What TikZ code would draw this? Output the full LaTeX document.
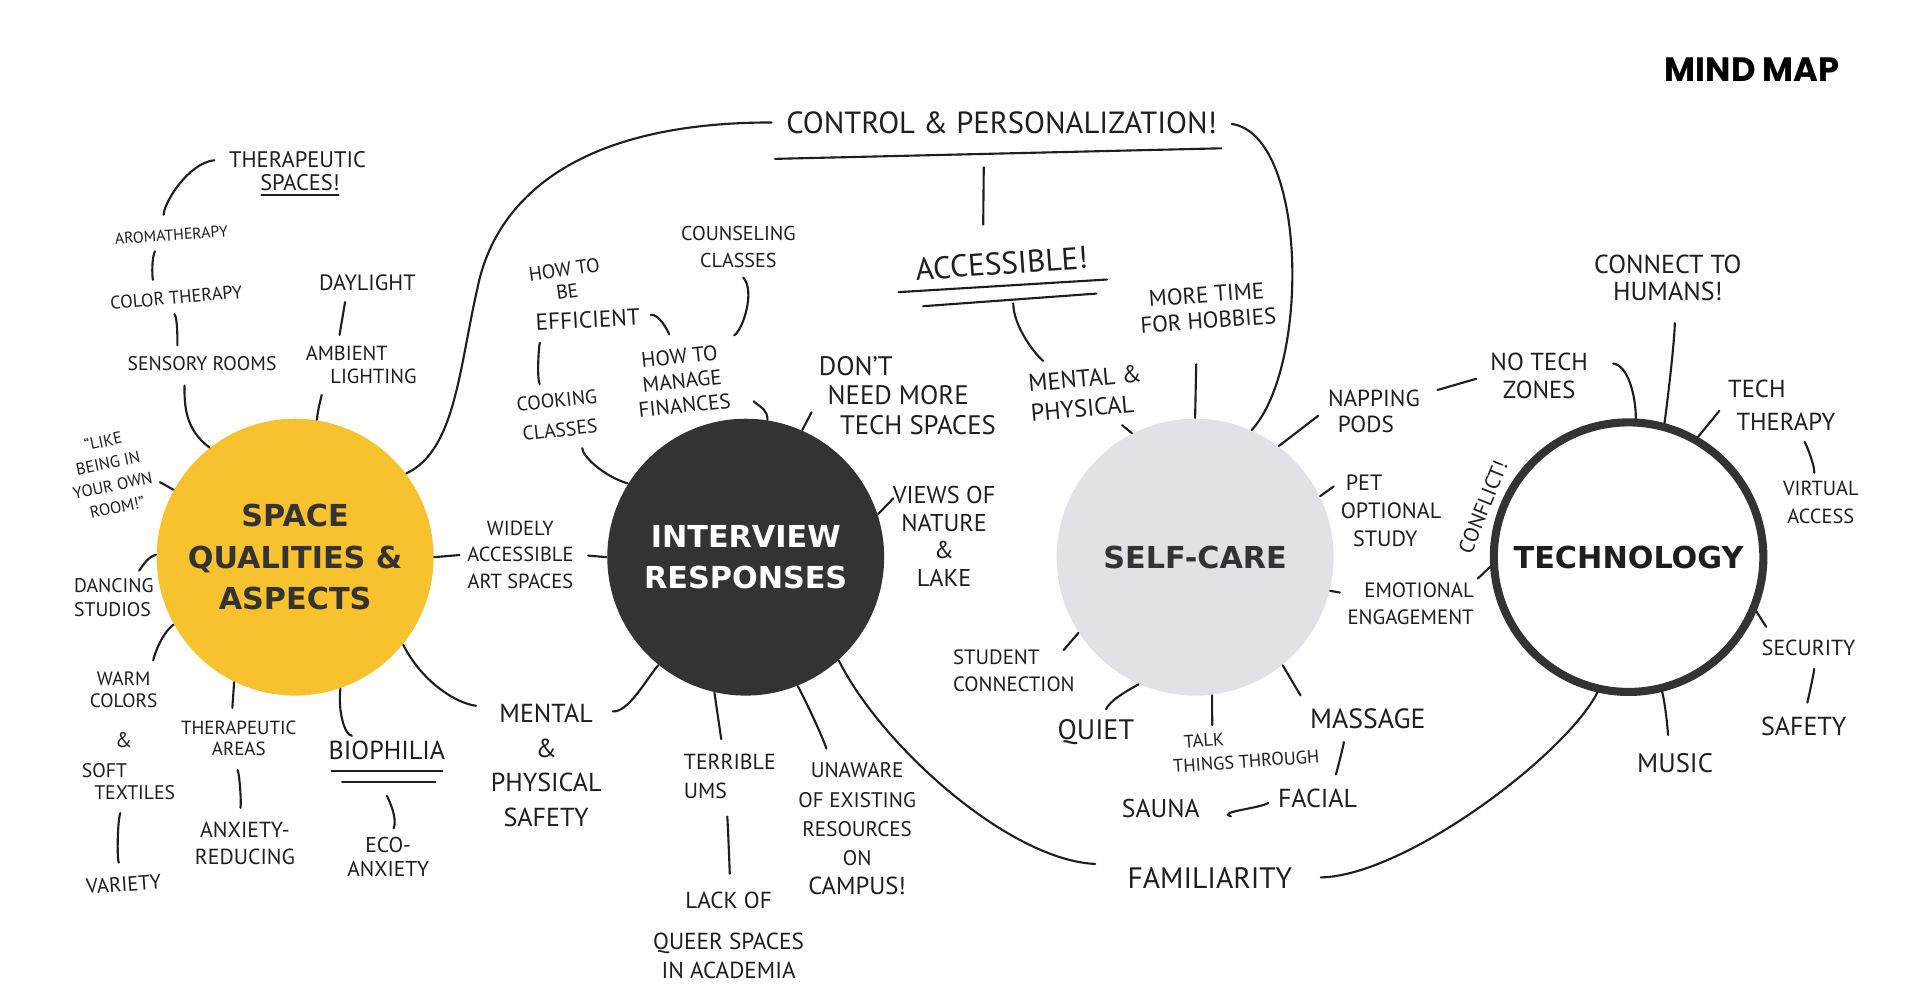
\documentclass[tikz,border=0pt]{standalone}
\usepackage{fontspec}
\usepackage{xcolor}
\newfontfamily\handfont{PT Sans}
\newfontfamily\hubfont{DejaVu Sans}
\newfontfamily\titlefont{Poppins}
\newcommand\hw[2]{\handfont\fontsize{#1}{#2}\selectfont}
\definecolor{sunny}{HTML}{F8C22E}
\definecolor{charcoal}{HTML}{333333}
\definecolor{mist}{HTML}{E1E1E6}
\definecolor{ink}{HTML}{1E1E1E}

\begin{document}
\begin{tikzpicture}[x=0.012245cm, y=-0.012245cm,
  note/.style={inner sep=1pt, align=center, text=ink},
  link/.style={draw=ink, line width=0.6pt, line cap=round},
  hub/.style={circle, minimum size=2.767cm, inner sep=0pt, align=center,
    font=\hubfont\bfseries\fontsize{8.6pt}{11.8pt}\selectfont}]
  \path[use as bounding box, fill=white] (0,0) rectangle (1568,821);

  \node[font=\titlefont\bfseries\fontsize{9.6pt}{12pt}\selectfont] (title) at (1431,57) {MIND MAP};

  \node[hub, fill=sunny, text=charcoal] (sq) at (241,455) {SPACE\\QUALITIES \&\\ASPECTS};
  \node[hub, fill=charcoal, text=white] (ir) at (609,455) {INTERVIEW\\RESPONSES};
  \node[hub, fill=mist, text=charcoal] (sc) at (976,455) {SELF-CARE};
  \node[hub, draw=charcoal, line width=2.3pt, minimum size=2.694cm, text=ink] (tech) at (1330,455) {TECHNOLOGY};

  \node[note, font=\hw{6.4pt}{7pt}] (therA) at (243,130) {THERAPEUTIC};
  \node[note, font=\hw{6.4pt}{7pt}] (therB) at (245,149) {SPACES!};
  \draw[link, shorten <=1.5pt, shorten >=1.5pt] (therB.south west) -- (therB.south east);
  \node[note, font=\hw{4.5pt}{5pt}, rotate=4] (aroma) at (140,192) {AROMATHERAPY};
  \draw[link, shorten <=3pt, shorten >=3pt] (therA.west) .. controls +(-30,3) and +(0,-18) .. ([xshift=-2pt]aroma.north);
  \node[note, font=\hw{5.2pt}{6pt}, rotate=5] (color) at (144,243) {COLOR THERAPY};
  \draw[link, shorten <=2pt, shorten >=2pt] ([xshift=-4pt]aroma.south) .. controls +(-5,10) and +(-2,-10) .. ([xshift=-6pt]color.north);
  \node[note, font=\hw{5.6pt}{6.5pt}] (sensory) at (165,297) {SENSORY ROOMS};
  \draw[link, shorten <=2pt, shorten >=2pt] ([xshift=-2pt]color.south) .. controls +(6,8) and +(0,-10) .. ([xshift=-7pt]sensory.north);
  \draw[link, shorten >=3pt] (sq.128) .. controls +(-20,-15) and +(0,25) .. ([xshift=-5pt]sensory.south);
  \node[note, font=\hw{6.3pt}{7pt}] (daylight) at (300,231) {DAYLIGHT};
  \node[note, font=\hw{5.8pt}{6.5pt}, align=left] (ambient) at (295,298) {AMBIENT\\\hspace*{7pt}LIGHTING};
  \draw[link, shorten <=2pt, shorten >=2pt] ([xshift=-6pt]daylight.south) -- ([xshift=-6.5pt]ambient.north);
  \draw[link, shorten >=2pt] (sq.81) .. controls +(1,-10) and +(-1,8) .. ([xshift=-11pt]ambient.south);

  \node[note, font=\hw{8.7pt}{10pt}] (control) at (818,100) {CONTROL \& PERSONALIZATION!};
  \draw[link, shorten >=3pt] (sq.37) .. controls (372,368) and (375,300) .. (390,235)
    .. controls (402,175) and (455,100) .. (control.west);
  \draw[link] ([xshift=-2pt,yshift=-6pt]control.south west) -- ([yshift=-3pt]control.south east);

  \node[note, font=\hw{4.7pt}{6.4pt}, rotate=12] (quote) at (90,387) {“LIKE\\BEING IN\\YOUR OWN\\ROOM!”};
  \draw[link, shorten <=2pt] ([yshift=-4pt]quote.east) -- (sq.151);
  \node[note, font=\hw{5.6pt}{6.6pt}, align=left] (dancing) at (93,488) {DANCING\\STUDIOS};
  \draw[link, shorten >=2pt] (sq.179) .. controls +(-8,2) and +(6,-4) .. ([xshift=-7pt]dancing.north east);
  \node[note, font=\hw{5.5pt}{6.2pt}] (warm) at (101,563) {WARM\\COLORS};
  \draw[link, shorten >=2pt] (sq.209) .. controls +(-10,8) and +(2,-10) .. ([xshift=8pt]warm.north);
  \node[note, font=\hw{6pt}{7pt}] (amp) at (101,604) {\&};
  \node[note, font=\hw{5.6pt}{6.3pt}, align=left] (soft) at (105,638) {SOFT\\\hspace*{3.5pt}TEXTILES};
  \node[note, font=\hw{5.9pt}{7pt}, rotate=4] (variety) at (101,722) {VARIETY};
  \draw[link, shorten <=3pt, shorten >=3pt] ([xshift=-1pt]soft.south) .. controls +(-6,12) and +(-5,-12) .. (variety.north);

  \node[note, font=\hw{5.4pt}{6pt}] (areas) at (195,603) {THERAPEUTIC\\AREAS};
  \draw[link, shorten >=2.5pt] (sq.244) -- ([xshift=-2pt]areas.north);
  \node[note, font=\hw{6.2pt}{7.7pt}] (anxiety) at (200,689) {ANXIETY-\\REDUCING};
  \draw[link, shorten <=3pt, shorten >=3pt] ([xshift=-1.5pt]areas.south) .. controls +(5,12) and +(3,-12) .. ([xshift=-2pt]anxiety.north);
  \node[note, font=\hw{7.4pt}{8pt}] (bio) at (316,613) {BIOPHILIA};
  \draw[link] ([xshift=2pt,yshift=-2pt]bio.south west) -- ([xshift=-2pt,yshift=-2pt]bio.south east);
  \draw[link] ([xshift=5pt,yshift=-5pt]bio.south west) -- ([xshift=-4pt,yshift=-5pt]bio.south east);
  \draw[link, shorten >=2pt] (sq.289) .. controls +(-2,18) and +(-12,-2) .. ([xshift=-8pt]bio.north);
  \node[note, font=\hw{6.1pt}{6.8pt}] (eco) at (317,700) {ECO-\\ANXIETY};
  \draw[link, shorten >=1.5pt] ([yshift=-9pt]bio.south) .. controls +(5,10) and +(4,-10) .. ([xshift=1pt]eco.north);

  \node[note, font=\hw{7.4pt}{9.8pt}] (mental) at (446,625) {MENTAL\\\&\\PHYSICAL\\SAFETY};
  \draw[link, shorten >=3pt] (sq.321) .. controls +(15,30) and +(-25,-3) .. ([yshift=-2pt]mental.north west);
  \draw[link, shorten <=2pt] ([yshift=-3pt]mental.north east) .. controls +(18,2) and +(-10,12) .. (ir.231);
  \node[note, font=\hw{5.8pt}{7.6pt}] (widely) at (425,453) {WIDELY\\ACCESSIBLE\\ART SPACES};
  \draw[link, shorten >=1pt] (sq.east) -- (widely.west);
  \draw[link, shorten <=3pt] (widely.east) -- (ir.west);

  \node[note, font=\hw{5.6pt}{8.4pt}, rotate=6] (cook) at (456,339) {COOKING\\CLASSES};
  \draw[link, shorten >=2pt] (ir.148) .. controls +(-20,-6) and +(0,12) .. ([xshift=6pt]cook.south);
  \node[note, font=\hw{5.6pt}{6.4pt}, rotate=8] (howbe) at (462,229) {HOW TO\\BE};
  \node[note, font=\hw{6.6pt}{7pt}, rotate=3] (effic) at (480,261) {EFFICIENT};
  \draw[link, shorten <=3.5pt, shorten >=1.5pt] ([xshift=-12pt]effic.south) .. controls +(-6,10) and +(-4,-10) .. ([xshift=-4pt]cook.north);
  \node[note, font=\hw{6pt}{7pt}, rotate=6] (fin) at (557,311) {HOW TO\\MANAGE\\FINANCES};
  \draw[link, shorten <=2pt, shorten >=3pt] (effic.east) .. controls +(12,-3) and +(-2,-10) .. ([xshift=-2pt]fin.north);
  \node[note, font=\hw{5.7pt}{7.7pt}] (couns) at (603,202) {COUNSELING\\CLASSES};
  \draw[link, shorten <=2pt, shorten >=2pt] (couns.south) .. controls +(14,15) and +(12,-8) .. (fin.north east);
  \draw[link] ([xshift=5pt,yshift=3pt]fin.south east) .. controls +(6,5) and +(0,-8) .. (ir.81);
  \node[note, font=\hw{7.6pt}{8.4pt}, align=left] (dont) at (741,323) {DON’T\\\hspace*{2.5pt}NEED MORE\\\hspace*{6pt}TECH SPACES};
  \draw[link, shorten >=2pt] (ir.66) -- ([yshift=-3pt]dont.west);
  \node[note, font=\hw{6.9pt}{7.9pt}] (views) at (771,438) {VIEWS OF\\NATURE\\\&\\LAKE};
  \draw[link, shorten >=1pt] (ir.18) -- ([xshift=2pt,yshift=-4pt]views.north west);

  \node[note, font=\hw{6.2pt}{8.4pt}, align=left] (terrible) at (596,634) {TERRIBLE\\UMS};
  \draw[link, shorten >=3pt] (ir.257) -- ([xshift=-2pt]terrible.north);
  \node[note, font=\hw{6.6pt}{8.4pt}] (queer) at (595,764) {LACK OF\\[3.2pt]QUEER SPACES\\IN ACADEMIA};
  \draw[link, shorten <=4pt, shorten >=4pt] ([xshift=-2pt]terrible.south) .. controls +(4,12) and +(1,-12) .. (queer.north);
  \node[note, font=\hw{6pt}{8.3pt}] (unaware) at (700,677) {UNAWARE\\OF EXISTING\\RESOURCES\\ON\\{\hw{7pt}{8.3pt}CAMPUS!}};
  \draw[link, shorten >=3pt] (ir.292) .. controls +(8,15) and +(-4,-15) .. ([xshift=-8pt]unaware.north);

  \node[note, font=\hw{8.4pt}{9pt}] (fam) at (988,717) {FAMILIARITY};
  \draw[link] (ir.312) .. controls +(35,70) and +(-70,-3) .. ([xshift=-8pt,yshift=4pt]fam.west);
  \draw[link, shorten <=7pt] (fam.east) .. controls +(90,-2) and +(-25,50) .. (tech.257);

  \node[note, font=\hw{8.9pt}{10pt}, rotate=4] (access) at (818,215) {ACCESSIBLE!};
  \draw[link, shorten <=8.4pt, shorten >=6.6pt] ([xshift=-5pt]control.south) -- ([xshift=-5pt]access.north);
  \draw[link] ([xshift=-4pt,yshift=-2pt]access.south west) -- ([xshift=4pt,yshift=-2pt]access.south east);
  \draw[link] ([xshift=3pt,yshift=-6pt]access.south west) -- ([xshift=1pt,yshift=-6pt]access.south east);
  \node[note, font=\hw{6.9pt}{8.4pt}, align=left, rotate=5] (menph) at (887,321) {MENTAL \&\\PHYSICAL};
  \draw[link, shorten >=2pt] ([xshift=3pt,yshift=-7pt]access.south) .. controls +(0,18) and +(-12,-10) .. ([xshift=-10pt]menph.north);
  \draw[link, shorten <=2pt] ([xshift=8pt]menph.south) -- (sc.117);
  \node[note, font=\hw{6.5pt}{7.4pt}, rotate=4] (hobby) at (986,251) {MORE TIME\\FOR HOBBIES};
  \draw[link, shorten <=9pt] ([xshift=-3.5pt]hobby.south) -- (sc.north);
  \draw[link, shorten <=3pt] (control.east) .. controls +(70,10) and +(48,-53) .. (sc.66);

  \node[note, font=\hw{6.6pt}{7.2pt}, align=left] (napping) at (1122,336) {NAPPING\\\hspace*{2.8pt}PODS};
  \draw[link, shorten >=2pt] (sc.53) -- (napping.west);
  \node[note, font=\hw{7pt}{8pt}] (notech) at (1257,307) {NO TECH\\ZONES};
  \draw[link, shorten <=4pt, shorten >=3pt] ([yshift=5pt]napping.east) -- (notech.west);
  \draw[link, shorten <=2pt] ([xshift=4pt,yshift=-4pt]notech.north east) .. controls +(18,2) and +(0,-18) .. (tech.87);
  \node[note, font=\hw{7.4pt}{7.9pt}] (human) at (1362,227) {CONNECT TO\\HUMANS!};
  \draw[link, shorten >=5pt] (tech.75) .. controls +(4,-30) and +(0,25) .. ([xshift=2pt]human.south);
  \node[note, font=\hw{7pt}{9.4pt}, align=left] (techth) at (1455,331) {TECH\\\hspace*{2.4pt}THERAPY};
  \draw[link, shorten >=2pt] (tech.60) -- (techth.west);
  \node[note, font=\hw{5.8pt}{8pt}] (virtual) at (1487,410) {VIRTUAL\\ACCESS};
  \draw[link, shorten <=2.5pt, shorten >=1pt] ([xshift=5pt]techth.south) .. controls +(6,8) and +(1,-8) .. ([xshift=-2pt]virtual.north);
  \node[note, font=\hw{6.2pt}{7pt}] (security) at (1477,529) {SECURITY};
  \draw[link, shorten >=3pt] (tech.337) -- ([xshift=4pt]security.north west);
  \node[note, font=\hw{7.4pt}{8pt}] (safety) at (1473,593) {SAFETY};
  \draw[link, shorten <=3pt, shorten >=3pt] (security.south) .. controls +(5,8) and +(3,-8) .. (safety.north);
  \node[note, font=\hw{7.6pt}{8pt}] (music) at (1368,623) {MUSIC};
  \draw[link, shorten >=4pt] (tech.284) .. controls +(3,12) and +(0,-12) .. ([xshift=-2pt]music.north);

  \node[note, font=\hw{6pt}{7pt}, rotate=68] (conflict) at (1211,414) {CONFLICT!};
  \node[note, font=\hw{5.9pt}{7.7pt}, align=right] (emotion) at (1152,493) {EMOTIONAL\\ENGAGEMENT};
  \draw[link] (emotion.north east) -- (tech.184);
  \draw[link, shorten >=1pt] (sc.346) -- ([yshift=3pt]emotion.west);
  \node[note, font=\hw{6.3pt}{8pt}, align=left] (pet) at (1136,417) {\hspace*{1.4pt}PET\\OPTIONAL\\\hspace*{3.5pt}STUDY};
  \draw[link, shorten >=1pt] (sc.26) -- ([yshift=-4pt]pet.north west);
  \node[note, font=\hw{5.9pt}{7.7pt}, align=left] (student) at (828,548) {STUDENT\\CONNECTION};
  \draw[link, shorten >=1pt] (sc.213) -- ([xshift=-5pt,yshift=-2pt]student.north east);
  \node[note, font=\hw{8pt}{8pt}] (quiet) at (895,598) {QUIET};
  \draw[link, shorten >=2pt] (sc.246) .. controls +(-14,8) and +(6,-12) .. ([xshift=2pt]quiet.north);
  \node[note, font=\hw{5.2pt}{6.8pt}, align=left, rotate=4] (talk) at (1017,612) {\hspace*{3.5pt}TALK\\THINGS THROUGH};
  \draw[link, shorten >=2pt] (sc.277) -- ([xshift=13pt]talk.north west);
  \node[note, font=\hw{7.9pt}{8pt}] (massage) at (1117,587) {MASSAGE};
  \draw[link, shorten >=3pt] (sc.309) -- (massage.north west);
  \node[note, font=\hw{7.4pt}{8pt}] (facial) at (1076,652) {FACIAL};
  \draw[link, shorten <=3pt, shorten >=3pt] ([xshift=-8.4pt]massage.south) .. controls +(5,8) and +(2,-8) .. ([xshift=4.5pt]facial.north);
  \node[note, font=\hw{7.3pt}{8pt}] (sauna) at (948,660) {SAUNA};
  \draw[link, shorten <=2pt, shorten >=8pt] (facial.west) .. controls +(-10,8) and +(10,3) .. (sauna.east);
\end{tikzpicture}
\end{document}
